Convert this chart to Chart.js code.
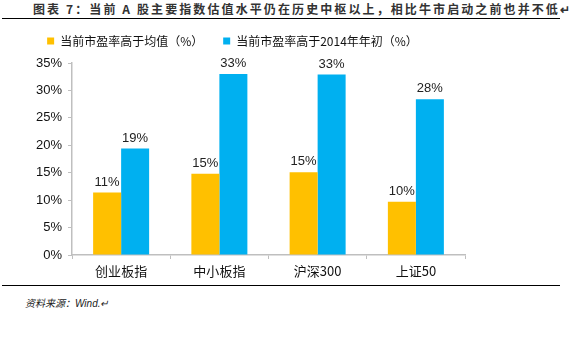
<!DOCTYPE html>
<html><head><meta charset="utf-8">
<script src="https://cdn.jsdelivr.net/npm/chart.js@4.4.1/dist/chart.umd.min.js"></script>
<style>
html,body{margin:0;padding:0;background:#fff;width:569px;height:348px;overflow:hidden;position:relative;font-family:"Noto Sans CJK SC",sans-serif;}
#title{position:absolute;left:33px;top:0px;font-size:12px;font-weight:bold;letter-spacing:2.1px;color:#333;white-space:nowrap;line-height:18px;}
.rule{position:absolute;left:2px;width:558px;height:0;border-top:1.5px solid #000;}
#foot{position:absolute;left:25px;top:295px;font-size:10px;font-style:italic;color:#222;font-family:"Liberation Sans","Noto Sans CJK SC",sans-serif;}
#wrap{position:absolute;left:0;top:0;width:569px;height:348px;}
</style></head>
<body>
<div id="title">图表 7：当前 A 股主要指数估值水平仍在历史中枢以上，相比牛市启动之前也并不低↵</div>
<div class="rule" style="top:18px"></div>
<div class="rule" style="top:285px"></div>
<div id="foot">资料来源：Wind.↵</div>
<div id="wrap"><canvas id="c" width="569" height="348"></canvas></div>
<script>
const categories = ['创业板指', '中小板指', '沪深300', '上证50'];
const seriesNames = ['当前市盈率高于均值（%）', '当前市盈率高于2014年年初（%）'];
const aboveMean = [11.4, 14.8, 15.1, 9.7];
const above2014 = [19.4, 33.0, 32.9, 28.4];
const yTicks = [0, 5, 10, 15, 20, 25, 30, 35];

const labelPlugin = {
  id: 'barLabels',
  afterDatasetsDraw(chart) {
    const ctx = chart.ctx;
    ctx.save();
    ctx.font = '13px "Liberation Sans", Arial, sans-serif';
    ctx.fillStyle = '#222';
    ctx.textAlign = 'center';
    ctx.textBaseline = 'bottom';
    chart.data.datasets.forEach((ds, i) => {
      chart.getDatasetMeta(i).data.forEach((bar, j) => {
        ctx.fillText(Math.round(ds.data[j]) + '%', bar.x, bar.y - 4);
      });
    });
    ctx.restore();
  }
};

const legendSpace = {
  id: 'legendSpace',
  beforeInit(chart) {
    const orig = chart.legend.fit;
    chart.legend.fit = function () { orig.call(this); this.height += 6; };
  }
};

new Chart(document.getElementById('c'), {
  type: 'bar',
  data: {
    labels: categories,
    datasets: [
      {label: seriesNames[0], data: aboveMean, backgroundColor: '#FFC000'},
      {label: seriesNames[1], data: above2014, backgroundColor: '#00B0F0'}
    ]
  },
  options: {
    responsive: false,
    animation: false,
    events: [],
    layout: {padding: {left: 0, right: 104, top: 15, bottom: 68}},
    datasets: {bar: {categoryPercentage: 0.57, barPercentage: 1}},
    plugins: {
      legend: {
        position: 'top',
        labels: {boxWidth: 7, boxHeight: 7, padding: 20, color: '#111',
          font: {size: 12, family: '"Noto Sans CJK SC", sans-serif'}}
      },
      tooltip: {enabled: false}
    },
    scales: {
      x: {
        grid: {drawOnChartArea: false, tickLength: 4, color: '#BFBFBF', offset: true},
        border: {color: '#BFBFBF', width: 1.5},
        ticks: {color: '#111', padding: 4, font: {size: 13, family: '"Noto Sans CJK SC", sans-serif'}},
        afterFit(s) { s.height = 25; }
      },
      y: {
        min: 0, max: 35,
        afterBuildTicks(s) { s.ticks = yTicks.map(v => ({value: v})); },
        grid: {drawOnChartArea: false, tickLength: 4, color: '#BFBFBF'},
        border: {color: '#BFBFBF', width: 1.5},
        ticks: {color: '#111', padding: 6, callback: v => v + '%',
          font: {size: 13, family: '"Liberation Sans", Arial, sans-serif'}},
        afterFit(s) { s.width = 72; }
      }
    }
  },
  plugins: [labelPlugin, legendSpace]
});
</script>
</body></html>
